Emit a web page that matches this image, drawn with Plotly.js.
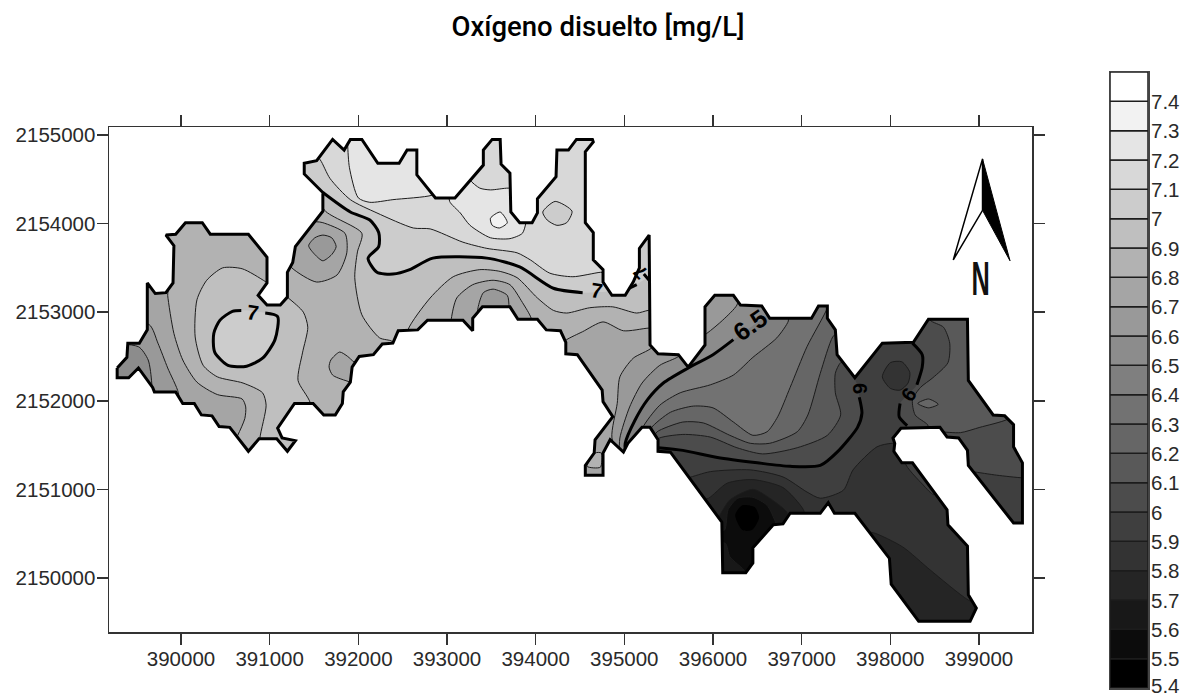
<!DOCTYPE html>
<html>
<head>
<meta charset="utf-8">
<script src="https://cdn.plot.ly/plotly-3.0.1.min.js"></script>
<style>html,body{margin:0;padding:0;background:#fff}</style>
</head>
<body>
<div id="chart" style="width:1192px;height:696px"></div>
<script>
// Oxygen classes: lower bound of each class and its grey
const levels = [5.4,5.5,5.6,5.7,5.8,5.9,6.0,6.1,6.2,6.3,6.4,6.5,6.6,6.7,6.8,6.9,7.0,7.1,7.2,7.3,7.4];
const greys  = ['#000000','#0c0c0c','#181818','#252525','#333333','#3f3f3f','#4c4c4c','#595959','#666666','#727272','#7f7f7f','#8c8c8c','#999999','#a5a5a5','#b2b2b2','#bfbfbf','#cccccc','#d8d8d8','#e5e5e5','#f2f2f2','#ffffff'];
const levelLabels = ['5.4','5.5','5.6','5.7','5.8','5.9','6','6.1','6.2','6.3','6.4','6.5','6.6','6.7','6.8','6.9','7','7.1','7.2','7.3','7.4'];
const xTicks = [390000,391000,392000,393000,394000,395000,396000,397000,398000,399000];
const yTicks = [2150000,2151000,2152000,2153000,2154000,2155000];
const xRange = [389188,399598];
const yRange = [2149390,2155090];

// Study-area boundary (UTM easting, northing)
const boundary = [[389280,2152370],[389280,2152260],[389410,2152260],[389520,2152370],[389680,2152150],[389700,2152100],[389940,2152100],[390020,2151970],[390150,2151970],[390230,2151840],[390350,2151830],[390430,2151710],[390550,2151700],[390760,2151430],[390880,2151570],[391080,2151570],[391200,2151430],[391290,2151550],[391140,2151580],[391090,2151690],[391280,2151970],[391490,2151970],[391610,2151840],[391740,2151840],[391820,2151970],[391830,2152100],[391910,2152210],[391930,2152380],[392010,2152500],[392170,2152520],[392270,2152640],[392390,2152650],[392450,2152790],[392670,2152800],[392780,2152910],[393180,2152910],[393290,2152790],[393290,2152930],[393400,2153060],[393710,2153060],[393800,2152920],[394020,2152920],[394120,2152800],[394280,2152790],[394340,2152660],[394340,2152530],[394470,2152520],[394750,2152120],[394760,2151990],[394870,2151820],[394670,2151560],[394660,2151410],[394560,2151270],[394560,2151160],[394760,2151160],[394760,2151410],[394840,2151560],[394990,2151420],[395040,2151520],[395200,2151700],[395290,2151700],[395380,2151560],[395380,2151430],[395520,2151420],[396100,2150630],[396110,2150060],[396370,2150060],[396450,2150170],[396450,2150340],[396680,2150600],[396790,2150610],[396870,2150730],[397210,2150730],[397300,2150850],[397370,2150730],[397600,2150730],[397990,2150220],[398010,2149930],[398320,2149510],[398900,2149510],[398970,2149660],[398880,2149810],[398870,2150360],[398650,2150600],[398640,2150770],[398250,2151300],[398130,2151300],[398040,2151430],[398050,2151520],[398030,2151580],[398120,2151690],[398560,2151700],[398640,2151590],[398770,2151580],[398870,2151440],[398880,2151270],[399390,2150620],[399490,2150620],[399490,2151300],[399390,2151480],[399390,2151730],[399290,2151830],[399160,2151840],[398880,2152230],[398870,2152920],[398430,2152920],[398260,2152660],[397910,2152650],[397600,2152260],[397400,2152520],[397380,2152800],[397290,2152930],[397290,2153070],[397190,2153070],[397110,2152930],[396640,2152930],[396550,2153070],[396310,2153080],[396230,2153190],[396020,2153190],[395910,2153060],[395910,2152630],[395720,2152380],[395610,2152520],[395380,2152530],[395290,2152630],[395280,2153870],[395170,2153720],[395170,2153500],[395100,2153340],[395010,2153190],[394860,2153190],[394760,2153340],[394760,2153480],[394650,2153590],[394650,2153900],[394560,2154010],[394560,2154810],[394650,2154920],[394640,2154950],[394460,2154950],[394370,2154830],[394240,2154830],[394230,2154530],[394020,2154280],[394020,2154120],[393960,2154010],[393820,2154010],[393720,2154130],[393710,2154570],[393610,2154670],[393600,2154950],[393510,2154950],[393410,2154830],[393410,2154660],[393090,2154290],[392870,2154290],[392660,2154550],[392660,2154830],[392550,2154830],[392460,2154680],[392220,2154680],[392040,2154950],[391910,2154950],[391840,2154830],[391710,2154950],[391530,2154710],[391390,2154680],[391390,2154560],[391600,2154350],[391600,2154140],[391290,2153740],[391260,2153560],[391200,2153450],[391200,2153170],[391120,2153080],[390970,2153080],[390870,2153190],[390970,2153330],[390970,2153620],[390760,2153880],[390330,2153880],[390240,2154010],[390050,2154010],[389940,2153880],[389830,2153870],[389920,2153750],[389910,2153330],[389830,2153220],[389710,2153210],[389620,2153330],[389620,2152800],[389530,2152650],[389400,2152650],[389390,2152490]];

// West lobe
const westBelow68 = [[389850,2153280],[389850,2153190],[389920,2152760],[390020,2152460],[390180,2152210],[390410,2152070],[390690,2152020],[390730,2151930],[390720,2151800],[390640,2151610],[390550,2151440],[389140,2151440],[389140,2153280]];
const westBelow67 = [[389640,2152860],[389740,2152650],[389850,2152370],[389970,2152090],[389970,2151900],[389140,2151900],[389140,2152860]];
const westBelow66 = [[389520,2152610],[389630,2152460],[389670,2152200],[389670,2152010],[389140,2152010],[389140,2152610]];
const westAbove69 = [[390960,2153340],[390690,2153490],[390470,2153500],[390290,2153360],[390180,2153140],[390160,2152720],[390250,2152400],[390410,2152270],[390700,2152200],[390920,2152090],[390960,2151950],[390890,2151580],[390890,2151440],[391460,2151440],[391460,2151970],[391320,2152230],[391370,2152540],[391430,2152830],[391380,2153000],[391210,2153160]];
const westAbove7 = [[390760,2153020],[390580,2153010],[390440,2152910],[390370,2152760],[390380,2152550],[390530,2152400],[390740,2152390],[390920,2152480],[391060,2152690],[391090,2152950],[390950,2152990]];
const neckBelow68 = [[391250,2153500],[391530,2153340],[391760,2153420],[391870,2153670],[391850,2153890],[391600,2154010],[391530,2154020],[391340,2153980],[391120,2153700]];
const neckBelow67 = [[391440,2153750],[391510,2153840],[391600,2153870],[391700,2153840],[391750,2153740],[391700,2153650],[391600,2153580],[391510,2153650]];
const southPatch68 = [[391880,2152500],[391790,2152550],[391690,2152460],[391670,2152380],[391710,2152290],[391850,2152230],[392080,2152180],[392080,2152400],[391950,2152440]];

// Centre
const centreAbove69 = [[391620,2154150],[392040,2153890],[391990,2153680],[391960,2153390],[392040,2152970],[392240,2152710],[392380,2152670],[392410,2152570],[392560,2152630],[392560,2152800],[392810,2153160],[393070,2153400],[393370,2153480],[393600,2153460],[393790,2153390],[394020,2153160],[394200,2153020],[394350,2152990],[394610,2153050],[394870,2153060],[395140,2152990],[395270,2153020],[395400,2153020],[395400,2154380],[391570,2154380]];
const archBelow68 = [[393050,2152930],[393110,2153160],[393290,2153310],[393520,2153360],[393710,2153310],[393850,2153110],[393950,2152930],[393950,2152800],[393050,2152800]];
const archBelow67 = [[393350,2152970],[393350,2153050],[393410,2153220],[393520,2153260],[393680,2153190],[393700,2153060],[393700,2152970]];
const centreAbove7 = [[391230,2154350],[391600,2154350],[391910,2154130],[392130,2154040],[392230,2153900],[392230,2153740],[392110,2153610],[392210,2153450],[392390,2153430],[392580,2153480],[392840,2153610],[393450,2153610],[393820,2153510],[394200,2153270],[394530,2153220],[394810,2153230],[395010,2153230],[395140,2153310],[395270,2153390],[395400,2153390],[395400,2155060],[391230,2155060]];
const northAbove71 = [[391460,2154830],[391570,2154720],[391680,2154510],[391910,2154270],[392210,2154120],[392620,2153950],[392810,2153940],[393180,2153790],[393450,2153720],[393790,2153670],[393940,2153590],[394160,2153440],[394420,2153400],[394730,2153450],[394840,2153450],[394840,2155060],[391460,2155060]];
const northAbove72A = [[391880,2155060],[391880,2154890],[391900,2154630],[392000,2154290],[392130,2154240],[392390,2154270],[392830,2154320],[392920,2154380],[392920,2155060]];
const northAbove72B = [[393030,2154380],[393030,2154250],[393150,2154120],[393260,2153980],[393490,2153840],[393710,2153830],[393850,2153890],[393890,2154010],[393890,2154100],[393820,2154380],[393690,2154400],[393490,2154380],[393370,2154400],[393260,2154490],[393200,2154600]];
const northAbove73 = [[393490,2154060],[393600,2154130],[393680,2154010],[393590,2153950],[393510,2153980]];
const northPocket71 = [[394080,2154130],[394220,2154250],[394410,2154140],[394350,2154010],[394240,2153980],[394130,2154040]];

// East: nested areas from high to low
const eastBelow68 = [[394350,2152690],[394530,2152780],[394760,2152890],[394990,2152790],[395270,2152820],[395400,2152820],[395850,2153360],[399920,2153360],[399920,2149300],[394280,2149300],[394280,2152630]];
const spitAbove68 = [[394670,2151410],[394580,2151260],[394730,2151250],[394740,2151410]];
const eastBelow67 = [[394860,2151580],[394920,2151970],[394950,2152270],[395100,2152480],[395310,2152600],[395400,2152800],[395850,2153360],[399920,2153360],[399920,2149300],[395180,2149300],[395010,2151220]];
const eastBelow66 = [[394950,2151420],[394950,2151580],[395060,2151930],[395200,2152200],[395400,2152400],[395610,2152500],[395690,2152610],[395930,2152760],[396110,2152910],[396270,2153080],[396310,2153250],[399920,2153360],[399920,2149300],[395180,2149300],[395060,2151220]];
const eastBelow65 = [[395010,2151440],[395010,2151520],[395120,2151780],[395260,2152010],[395440,2152200],[395720,2152370],[396000,2152520],[396230,2152690],[396640,2152990],[396720,2153060],[399920,2153360],[399920,2149300],[395180,2149300],[395060,2151220]];
const eastBelow64 = [[395210,2151700],[395400,2151950],[395630,2152090],[395970,2152180],[396230,2152290],[396450,2152490],[396720,2152710],[396850,2152900],[396850,2152990],[399920,2153360],[399920,2149300],[395230,2149300],[395210,2151650]];
const eastBelow63 = [[395310,2151670],[395310,2151700],[395520,2151870],[395780,2151940],[396000,2151920],[396230,2151760],[396450,2151610],[396610,2151650],[396730,2151820],[396870,2152150],[397060,2152610],[397290,2153050],[397300,2153140],[399920,2153360],[399920,2149300],[395350,2149300]];
const eastBelow62 = [[395340,2151600],[395370,2151650],[395660,2151760],[395890,2151750],[396190,2151610],[396420,2151520],[396640,2151520],[396950,2151650],[397070,2151840],[397210,2152310],[397350,2152720],[397430,2152800],[397430,2152990],[399920,2153360],[399920,2149300],[395400,2149300]];
const eastBelow61 = [[395380,2151570],[395660,2151620],[395970,2151590],[396270,2151470],[396560,2151400],[396950,2151470],[397290,2151610],[397440,2151840],[397380,2152090],[397380,2152310],[397440,2152430],[397550,2152460],[397550,2152690],[399920,2153360],[399920,2149300],[395460,2149300],[395380,2151500]];
const eastBelow6 = [[395380,2151470],[395660,2151440],[396050,2151360],[396500,2151300],[396870,2151260],[397210,2151270],[397400,2151420],[397630,2151700],[397680,2151860],[397650,2152040],[397640,2152150],[397600,2152260],[397720,2152570],[397770,2152690],[398250,2152690],[398250,2152650],[398360,2152520],[398360,2152380],[398300,2152180],[398200,2152070],[398110,2151970],[398100,2151820],[398190,2151720],[398190,2151560],[398670,2151220],[399130,2150200],[399240,2149300],[395460,2149300],[395350,2151470]];
const pocketBelow59 = [[397910,2152270],[398000,2152430],[398130,2152440],[398220,2152320],[398200,2152200],[398110,2152120],[398000,2152140]];
const neAbove61 = [[398450,2152910],[398600,2152830],[398670,2152650],[398650,2152430],[398480,2152260],[398340,2152150],[398250,2152010],[398280,2151840],[398420,2151730],[398450,2151650],[398560,2151650],[398790,2151640],[399010,2151700],[399320,2151790],[399460,2151900],[399460,2153020],[398450,2153020]];
const nePocket62 = [[398310,2151970],[398430,2152020],[398540,2151960],[398430,2151920]];
const armBelow6 = [[398790,2151220],[398930,2151200],[399200,2151160],[399490,2151130],[399630,2151130],[399630,2150430],[399240,2150430],[398790,2150990]];
const southBelow59 = [[395630,2151110],[395720,2151130],[395970,2151200],[396420,2151220],[396790,2151140],[397060,2150970],[397210,2150900],[397470,2150990],[397580,2151220],[397850,2151480],[398020,2151520],[398170,2151500],[398670,2151220],[399130,2150200],[399240,2149300],[395460,2149300]];
const southBelow58 = [[395850,2150880],[395950,2150900],[396160,2151070],[396450,2151110],[396790,2151020],[397020,2150770],[397040,2150650],[396980,2149300],[395460,2149300]];
const southBelow57 = [[395990,2150650],[396060,2150690],[396190,2150880],[396450,2151000],[396640,2150900],[396840,2150730],[396810,2150650],[396640,2149300],[395630,2149300]];
const southBelow56 = [[396020,2150540],[396130,2150540],[396170,2150770],[396280,2150900],[396450,2150910],[396610,2150820],[396710,2150620],[396760,2150480],[396530,2149750],[396020,2149750]];
const lobeCorner57 = [[396140,2150390],[396190,2150240],[396360,2150070],[396360,2149920],[396020,2149920],[396020,2150390]];
const southBelow55 = [[396250,2150710],[396330,2150820],[396470,2150800],[396520,2150680],[396440,2150540],[396330,2150540]];
const armBelow58 = [[397720,2150510],[397810,2150510],[398140,2150350],[398450,2150090],[398880,2149750],[399130,2149640],[399010,2149300],[397660,2149300]];
const armEdge6 = [[398170,2151300],[398370,2151050],[398490,2150940],[398560,2150990],[398280,2151390]];

// Heavy contours, with gaps where their labels sit
const contour7a = [[391600,2154350],[391910,2154130],[392130,2154040],[392230,2153900],[392230,2153740],[392110,2153610],[392210,2153450],[392390,2153430],[392580,2153480],[392840,2153610],[393450,2153610],[393820,2153510],[394200,2153270],[394530,2153220]];
const contour7b = [[395010,2153250],[395140,2153310]];
const contour7c = [[395220,2153430],[395280,2153360]];
const contour7d = [[390680,2153020],[390580,2153010],[390440,2152910],[390370,2152760],[390380,2152550],[390530,2152400],[390740,2152390],[390920,2152480],[391060,2152690],[391090,2152950],[390950,2152990]];
const contour65 = [[395010,2151440],[395010,2151520],[395120,2151780],[395260,2152010],[395440,2152200],[395720,2152370],[396000,2152520],[396230,2152690]];
const contour6a = [[395380,2151470],[395660,2151440],[396050,2151360],[396500,2151300],[396870,2151260],[397210,2151270],[397400,2151420],[397630,2151700],[397680,2151860],[397650,2152040]];
const contour6b = [[398250,2152650],[398360,2152520],[398360,2152380],[398300,2152180]];
const contour6c = [[398110,2151970],[398100,2151820],[398190,2151720]];

// Contour labels: text, easting, northing, angle, size
const contourLabels = [['7',390810,2153000,8,21],['7',394690,2153250,8,21],['7',395180,2153450,-135,19],['6.5',396420,2152850,-35,25],['6',397650,2152140,90,20],['6',398200,2152070,-55,20]];

// North arrow
const arrowOpen = [[399040,2154730],[398710,2153590],[399040,2154150]];
const arrowSolid = [[399040,2154730],[399350,2153580],[399040,2154150]];
const northLabelAt = [399020,2153390];

// Painting order, each entry: points, class lower bound, line drawn?
const layers = [
 [boundary,6.8,false],
 [westBelow68,6.7,true],[westBelow67,6.6,true],[westBelow66,6.5,true],
 [westAbove69,6.9,true],[westAbove7,7.0,false],
 [neckBelow68,6.7,true],[neckBelow67,6.6,true],[southPatch68,6.7,true],
 [centreAbove69,6.9,true],[archBelow68,6.7,true],[archBelow67,6.6,true],
 [eastBelow68,6.7,true],[spitAbove68,6.8,true],[eastBelow67,6.6,true],[eastBelow66,6.5,true],
 [eastBelow65,6.4,false],[eastBelow64,6.3,true],[eastBelow63,6.2,true],[eastBelow62,6.1,true],[eastBelow61,6.0,true],
 [eastBelow6,5.9,false],[pocketBelow59,5.8,true],[neAbove61,6.1,true],[nePocket62,6.2,true],[armBelow6,5.9,true],
 [southBelow59,5.8,true],[southBelow58,5.7,true],[southBelow57,5.6,true],[southBelow56,5.5,true],[lobeCorner57,5.6,true],[southBelow55,5.4,false],
 [armBelow58,5.7,true],[armEdge6,5.9,true],
 [centreAbove7,7.0,false],[northAbove71,7.1,true],[northAbove72A,7.2,true],[northAbove72B,7.2,true],[northAbove73,7.3,true],[northPocket71,7.0,true]
];
const heavyContours = [contour7a,contour7b,contour7c,contour7d,contour65,contour6a,contour6b,contour6c];

const xs = p => p.map(d => d[0]);
const ys = p => p.map(d => d[1]);
const close = p => p.concat([p[0]]);
const traces = [];

layers.forEach(([pts, lower, lined], i) => {
  const c = close(pts);
  traces.push({type:'scatter', mode:'lines', x:xs(c), y:ys(c), fill:'toself',
    fillcolor:greys[levels.indexOf(lower)],
    line:{color:lined ? '#1c1c1c' : greys[levels.indexOf(lower)], width:lined ? 1 : 0,
      shape: i === 0 ? 'linear' : 'spline', smoothing:0.7, simplify:false},
    hoverinfo:'skip', showlegend:false});
});
heavyContours.forEach(p => traces.push({type:'scatter', mode:'lines', x:xs(p), y:ys(p),
  line:{color:'#000', width:3, shape:'spline', smoothing:0.7}, hoverinfo:'skip', showlegend:false}));

// Everything outside the boundary is painted white
const b = close(boundary);
traces.push({type:'scatter', mode:'lines',
  x:[xRange[0],xRange[1],xRange[1],xRange[0],xRange[0],null].concat(xs(b)),
  y:[yRange[1],yRange[1],yRange[0],yRange[0],yRange[1],null].concat(ys(b)),
  fill:'toself', fillcolor:'#ffffff', line:{width:0, color:'#fff'}, hoverinfo:'skip', showlegend:false});
traces.push({type:'scatter', mode:'lines', x:xs(b), y:ys(b), line:{color:'#000', width:3}, hoverinfo:'skip', showlegend:false});

// North arrow
const ao = close(arrowOpen), as = close(arrowSolid);
traces.push({type:'scatter', mode:'lines', x:xs(ao), y:ys(ao), line:{color:'#000', width:1.5}, hoverinfo:'skip', showlegend:false});
traces.push({type:'scatter', mode:'lines', x:xs(as), y:ys(as), fill:'toself', fillcolor:'#000', line:{color:'#000', width:1}, hoverinfo:'skip', showlegend:false});

// Colour key
traces.push({type:'bar', xaxis:'x2', yaxis:'y2', x:levels.map(() => 0.5), y:levels.map(() => 0.1), base:levels, width:1,
  marker:{color:greys, line:{color:'#1c1c1c', width:1.5}}, hoverinfo:'skip', showlegend:false});

const W = 1192, H = 696;
const tickFont = {family:'Liberation Sans, Arial, sans-serif', size:20.5, color:'#2a2a2a'};
const annotations = contourLabels.map(([t,x,y,a,s]) => ({text:t, x, y, xref:'x', yref:'y', showarrow:false, textangle:a,
  font:{family:'Liberation Sans, Arial, sans-serif', size:s, color:'#000', weight:700}}));
levels.forEach((v,i) => annotations.push({text:levelLabels[i], x:1, y:v, xref:'x2', yref:'y2', xanchor:'left', xshift:1,
  yshift: v === 5.4 ? 3 : 0, showarrow:false, font:tickFont}));
annotations.push({text:'N', x:northLabelAt[0], y:northLabelAt[1], xref:'x', yref:'y', showarrow:false,
  font:{family:'Liberation Sans, sans-serif', size:46, color:'#111', weight:700}});

const layout = {
  width:W, height:H, margin:{l:0,r:0,t:0,b:0}, paper_bgcolor:'#fff', plot_bgcolor:'#fff', showlegend:false, bargap:0,
  title:{text:'Oxígeno disuelto [mg/L]', x:598/W, xanchor:'center', xref:'paper', y:1-26/H, yanchor:'middle', yref:'paper',
    font:{family:'Roboto, sans-serif', size:27.5, color:'#000', weight:500}},
  xaxis:{domain:[109/W,1032/W], range:xRange, tickvals:xTicks, ticktext:xTicks.map(String), ticks:'outside', ticklen:11, tickwidth:1.5, tickcolor:'#333', ticklabelstandoff:-3,
    showline:true, linecolor:'#333', linewidth:1.5, mirror:'ticks', showgrid:false, zeroline:false, tickfont:tickFont},
  yaxis:{domain:[1-632/H,1-127/H], range:yRange, tickvals:yTicks, ticktext:yTicks.map(String), ticks:'outside', ticklen:11, tickwidth:1.5, tickcolor:'#333', ticklabelstandoff:-3,
    showline:true, linecolor:'#333', linewidth:1.5, mirror:'ticks', showgrid:false, zeroline:false, tickfont:tickFont},
  xaxis2:{domain:[1110/W,1148/W], range:[0,1], anchor:'y2', showticklabels:false, ticks:'', showgrid:false, zeroline:false,
    showline:true, linecolor:'#444', linewidth:1.5, mirror:true},
  yaxis2:{domain:[1-688/H,1-72/H], range:[5.4,7.5], anchor:'x2', side:'right', showticklabels:false, ticks:'', showgrid:false, zeroline:false,
    showline:true, linecolor:'#444', linewidth:1.5, mirror:true},
  annotations
};
Plotly.newPlot('chart', traces, layout, {staticPlot:true, displayModeBar:false}).then(() => {
  // The north letter in the reference is tall and narrow
  const groups = document.querySelectorAll('.annotation');
  const t = groups[groups.length - 1].querySelector('text');
  const box = t.getBBox();
  const cx = box.x + box.width / 2, cy = box.y + box.height / 2;
  t.setAttribute('transform', `translate(${cx},${cy}) scale(0.55,1.05) translate(${-cx},${-cy})`);
});
</script>
</body>
</html>
